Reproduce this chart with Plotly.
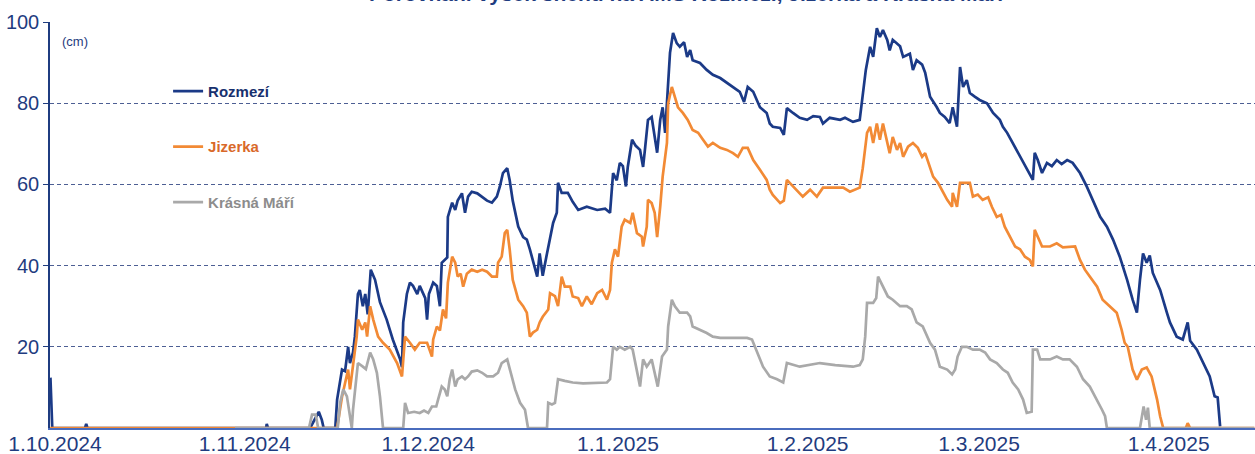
import pandas as pd
import plotly.graph_objects as go

# ---------------- data (days since 1.10.2024, snow depth in cm) ----------------
roz_days = [-0.75,-0.45,4.9,5.1,5.3,34.5,34.6,34.8,41.7,42.5,
            43.1,43.6,43.9,45.8,46.1,46.9,47.4,47.9,48.2,48.7,
            49.0,49.5,49.8,50.3,50.7,51.1,51.6,52.3,53.1,54.2,
            55.2,56.4,56.7,56.9,57.5,58.0,58.5,59.2,59.6,60.5,
            60.8,61.1,61.8,62.4,62.9,63.2,64.1,64.2,64.9,65.4,
            65.8,66.5,67.0,67.5,68.1,69.0,69.8,70.6,71.4,72.2,
            72.7,73.2,73.9,74.3,74.8,75.7,76.5,77.1,77.6,78.1,
            78.8,79.2,79.7,80.4,80.9,81.4,82.0,82.2,82.8,83.8,
            84.6,85.5,86.9,88.6,89.9,90.7,91.2,91.8,92.3,92.8,
            93.3,93.6,94.3,94.9,95.6,96.1,96.4,96.9,97.5,98.0,
            98.4,98.9,99.3,99.7,100.0,100.5,101.0,101.6,102.1,102.8,
            103.3,103.8,104.2,105.4,106.5,107.5,108.7,109.8,110.8,111.9,
            112.6,113.2,114.1,114.7,115.2,116.3,116.8,117.3,118.5,119.1,
            119.6,120.6,121.7,122.9,123.9,125.0,125.5,126.6,128.3,129.1,
            130.4,131.5,131.9,132.5,133.2,133.7,134.3,134.8,135.3,136.0,
            136.4,136.9,138.1,138.6,139.7,140.2,140.8,141.7,142.2,143.0,
            144.1,144.6,145.4,146.2,146.7,147.4,147.9,148.4,149.0,149.5,
            150.3,151.1,152.3,153.3,154.4,154.9,155.6,156.5,157.7,158.8,
            159.8,160.1,160.6,161.3,162.1,162.9,163.7,164.5,165.4,166.3,
            167.5,168.6,169.6,170.8,171.9,172.9,174.0,175.2,176.1,176.8,
            177.3,177.8,178.4,178.9,179.4,180.6,181.7,182.2,183.3,184.3,
            185.1,185.5,186.6,187.6,188.7,189.5,190.0,190.4]
roz_cm = [12.4,0,0,1,0,0,1,0,0,2.5,
          4,2,0,0,7,14.4,14,20,16,18.6,
          22.5,33,34,30,33,28,39,36.5,31,26.7,
          21.8,16.9,15,26,33,35.8,35,33,35,32,
          26.7,33,35.8,35,30,40.7,42,52,55.5,53.7,
          56,57.8,53,57,58.2,57.8,57,56,55.5,57,
          59.5,62.8,64,61,56,49.6,47,46.4,44,41.4,
          37.3,43,37.5,43,47,50.5,53,60.4,57.9,57.9,
          55.7,53.7,54.5,53.7,54,53,62.8,61,65.3,64.5,
          59.5,64.3,71,69.5,68.5,64.3,68.5,75.9,76.6,71.7,
          67.8,75.9,79,72.7,80.8,92.4,97.3,94.8,93.9,95,
          91.4,93.1,90.6,89.9,88.2,87,86.2,85,84,82.8,
          80.3,84,82.8,80.8,79,77.6,75,74.2,73.9,72.2,
          78.8,77.6,76.4,75.9,76.8,76.6,75,76.4,75.9,76.4,
          75.4,75.9,80.5,88.2,93.9,91.4,98.5,96.3,98,95.6,
          93,95.6,94,91.4,92.2,88.2,90.6,89.5,87.5,81.6,
          79,77.6,76.6,75.1,79,74.2,88.9,84,85.7,82.5,
          81.6,80.8,80,77.6,75.9,74.2,72.7,70.2,66.8,63.6,
          61.1,67.8,66,62.8,65.3,64.5,66,65,66,65.3,
          62.8,59.5,56.2,52,49.6,46.4,42.2,36.5,31.6,28.4,
          36.5,43,40.7,42.5,38.2,34,28.4,26,22.5,21.8,
          26,21.5,19.3,16,12.7,7.8,7.5,0.4]

jiz_days = [-0.8,46.1,46.9,47.4,47.9,48.2,48.7,49.3,49.5,50.2,
            50.7,51.0,51.5,52.0,52.8,53.6,54.7,55.9,56.7,57.2,
            58.0,58.8,59.6,60.8,61.6,61.8,62.4,62.9,63.4,63.9,
            64.2,64.9,65.4,65.8,66.3,66.7,67.3,68.1,69.0,69.8,
            70.6,71.4,72.2,72.4,73.0,73.5,73.9,74.3,74.8,75.7,
            76.5,77.1,77.6,78.1,78.8,79.2,79.7,80.6,80.9,81.7,
            82.2,82.8,83.3,84.2,84.6,85.5,86.1,86.9,87.7,88.6,
            89.4,90.2,90.7,91.0,91.5,92.0,92.6,93.1,94.0,94.4,
            95.1,95.9,96.1,96.7,96.9,97.5,98.0,98.4,98.9,99.3,
            100.0,100.2,100.8,101.3,101.8,102.6,103.4,104.2,105.1,105.9,
            106.7,107.5,108.7,109.8,110.8,111.6,112.4,113.2,114.1,115.2,
            116.3,116.8,117.3,118.5,119.1,119.6,120.4,121.2,122.2,123.4,
            124.5,125.5,127.1,128.8,129.9,131.5,132.0,132.7,133.2,133.7,
            134.3,134.8,135.3,136.0,136.4,136.9,137.6,138.1,138.6,139.4,
            140.2,141.0,141.7,142.2,143.0,143.5,144.3,144.9,145.8,146.6,
            146.7,147.4,147.9,149.5,150.0,150.8,151.6,152.5,153.1,153.9,
            154.6,155.2,156.0,156.9,157.7,158.5,159.3,159.8,160.1,160.6,
            161.3,162.6,163.7,164.7,165.8,166.7,167.5,168.3,169.1,170.3,
            171.2,172.4,173.5,174.3,174.8,175.3,176.1,176.8,177.6,178.4,
            179.2,180.1,180.6,181.1,184.8,185.1,185.5,196.0]
jiz_cm = [0,0,7.7,11.2,14.4,9.5,16,22.5,26.7,24.2,
          26,22.5,30,26.7,22.5,21,19.3,16,12.7,22.5,
          21,19.3,21,21,17.6,21.8,25,24,29.2,27,
          35.8,42.2,40.7,37.3,38,34.8,38,39,38.5,39,
          38.5,37.3,37.3,40.7,42.2,48,48.8,44,36.5,31.6,
          30,28.4,22.5,23.5,24.2,26,27.4,29.2,33.2,32.5,
          30,37.3,34.8,34.8,32.4,32,30,32.4,30.5,33.2,
          34,31.6,34,40.7,44,42.2,49.6,51.3,50.5,53,
          48,47.1,44.7,49.6,56.2,55.4,53,47,54.5,61.9,
          70.2,80,84,81.6,79,77.6,75.9,73.4,72.7,71,
          69.3,70.2,69,68.5,67.7,66.8,69,69,66,63.6,
          61.1,58.7,57.4,55.4,56,61.1,59.9,58.7,57,58.7,
          57,59.2,59.2,59.2,58.2,59.2,64,72.7,74.2,70.2,
          75,71,75,70,67.7,71.7,68.5,70.2,66.8,69.3,
          70.2,69,66.8,67.7,64.3,61.9,60.4,58.7,56.2,54.5,
          57.9,54.5,60.4,60.4,57,57.5,56.2,56.8,54.5,52,
          52.5,49.6,47.1,44.7,44,42.2,41.4,39.8,48.8,47.1,
          44.7,44.7,45.5,44.5,44.7,44.7,41.4,39,37.3,34.8,
          31.6,30,28.4,24.2,21,20,14.4,11.9,14.4,14.9,
          12.7,7,2.9,0,0,1.2,0,0]

km_days = [29.4,41.5,42.0,42.6,43.0,46.2,46.6,47.1,47.7,48.2,
           48.5,48.7,49.3,49.5,50.3,50.8,51.5,52.0,52.6,53.1,
           53.6,56.9,57.2,57.7,58.7,59.6,60.3,61.0,61.6,62.3,
           62.6,63.2,63.7,64.1,64.5,64.9,65.4,65.8,66.5,67.0,
           67.5,68.1,69.0,69.8,70.6,71.6,72.4,73.0,73.9,74.3,
           75.2,76.0,76.8,77.3,80.4,80.6,81.2,81.7,82.2,83.3,
           84.6,86.3,88.6,90.2,90.7,91.2,91.8,92.3,93.1,94.0,
           94.4,95.1,95.6,96.1,96.7,97.5,98.0,98.5,99.2,100.0,
           100.2,100.8,101.3,102.1,103.3,103.8,104.2,105.4,106.5,107.5,
           108.7,111.1,113.1,113.9,114.7,115.7,116.8,118.0,119.0,119.6,
           121.7,123.4,125.0,127.5,130.4,131.5,132.0,132.4,132.7,133.7,
           134.2,134.5,135.3,136.1,136.9,138.1,139.2,140.0,140.8,141.8,
           143.0,143.8,144.6,145.8,146.6,147.1,147.5,148.2,149.0,150.0,
           151.1,152.0,152.8,153.9,154.9,155.7,156.5,157.4,158.2,158.8,
           159.6,159.8,160.5,161.0,162.6,163.7,164.7,165.8,167.0,168.0,
           169.1,170.3,171.1,171.6,171.9,177.3,177.6,177.9,178.3,178.6,
           178.9,196.0]
km_cm = [0,0,3.3,3.3,0,0,6.2,9.5,7.8,2.9,
         0,4.5,14.4,16,15.1,14.5,18.6,16.9,13.6,7.8,
         0,0,6.2,3.7,4,3.7,4.3,3.7,5.3,5.3,
         7,10.2,9.5,7.8,12,14.4,10.2,12,12.7,12,
         12.7,13.9,14.2,13.6,12.7,12.7,13.6,16,16.9,14.4,
         9.5,6.2,4.5,0,0,6.2,5.8,6.2,12,11.6,
         11.2,11,11.2,11.2,12,20,19.3,20,19.3,20,
         19.3,14.4,10.2,16.9,15.1,16.9,13.6,10.2,17.6,19.3,
         25,31.6,30,28.4,28.4,27.5,25,24.2,23.4,22.5,
         22.2,22.2,22.2,21.8,18.6,15.1,12.7,12,11.2,16,
         15.1,15.5,16,15.5,15.1,15.5,16.9,22.5,30.8,30.8,
         32,37.3,34.8,32.4,31.6,30,30,29.2,26,25,
         21,19.3,15.1,14.4,13.2,14.4,17.6,20,20,19.3,
         19.3,18.6,16.9,16,14.4,13.6,11.2,9.5,7,3.7,
         4,19.3,19.3,16.9,16.9,17.6,16.9,16.9,15.1,12,
         10.2,7,4.5,2.9,0,0,3,5.3,2,5,
         0,0]

series_names = ["Rozmezí", "Jizerka", "Krásná Máří"]
series_colors = ["#1b3a87", "#f28a35", "#a9a9a9"]
legend_text_colors = ["#17306e", "#d9692a", "#8c8c8c"]

tick_dates = ["2024-10-01", "2024-11-01", "2024-12-01", "2025-01-01",
              "2025-02-01", "2025-03-01", "2025-04-01"]
tick_labels = ["1.10.2024", "1.11.2024", "1.12.2024", "1.1.2025",
               "1.2.2025", "1.3.2025", "1.4.2025"]
y_ticks = [20, 40, 60, 80, 100]

title_text = "Porovnání výšek sněhu na AMS Rozmezí, Jizerka a Krásná Máří"

# ---------------- figure ----------------
base = pd.Timestamp("2024-10-01")
def to_dates(days):
    return base + pd.to_timedelta(pd.Series(days), unit="D")

fig = go.Figure()
for name, days, vals, col, tcol in zip(series_names,
                                       [roz_days, jiz_days, km_days],
                                       [roz_cm, jiz_cm, km_cm],
                                       series_colors, legend_text_colors):
    fig.add_trace(go.Scatter(
        x=to_dates(days), y=vals, mode="lines",
        line=dict(color=col, width=2.7),
        name=f"<b><span style='color:{tcol}'>{name}</span></b>",
        legendgroup=name,
    ))

x_start = base + pd.Timedelta(days=-0.82)
x_end = base + pd.Timedelta(days=196.1)

FONT = "Liberation Sans, Arial, sans-serif"
NAVY = "#1f3c80"

fig.update_layout(
    template="none",
    width=1255, height=454,
    margin=dict(l=50, r=0, t=22, b=26, autoexpand=False),
    paper_bgcolor="white", plot_bgcolor="white",
    font=dict(family=FONT, color=NAVY),
    showlegend=True,
    legend=dict(x=0.098, y=0.87, xanchor="left", yanchor="top",
                bgcolor="rgba(0,0,0,0)", borderwidth=0,
                font=dict(size=15, family=FONT),
                tracegroupgap=33, itemwidth=30),
    xaxis=dict(type="date", range=[x_start, x_end],
               tickvals=pd.to_datetime(tick_dates), ticktext=tick_labels,
               ticks="", ticklen=0, ticklabelstandoff=-4,
               showgrid=False, zeroline=False, automargin=False,
               showline=True, linecolor="#4a6cbd", linewidth=1.5,
               tickfont=dict(size=21, color=NAVY, family=FONT),
               layer="below traces"),
    yaxis=dict(range=[0, 100], tickvals=y_ticks, automargin=False,
               ticks="outside", ticklen=5, tickcolor=NAVY, tickwidth=1,
               showline=True, linecolor=NAVY, linewidth=1.5,
               showgrid=True, gridcolor="#4d5f94", gridwidth=1,
               griddash="4px,3px", zeroline=False,
               tickfont=dict(size=20, color=NAVY, family=FONT),
               layer="below traces"),
    annotations=[
        dict(text="(cm)", x=0.008, y=0.951, xref="paper", yref="paper",
             xanchor="left", yanchor="middle", showarrow=False,
             font=dict(size=13, color=NAVY, family=FONT)),
        dict(text=f"<b>{title_text}</b>", x=0.5286, y=1.037,
             xref="paper", yref="paper", xanchor="center", yanchor="bottom",
             showarrow=False, font=dict(size=21, color=NAVY, family=FONT)),
    ],
)

fig.write_html("out.html",
               config={"displayModeBar": False},
               post_script="document.body.style.margin='0px';"
                           "document.body.style.overflow='hidden';")
